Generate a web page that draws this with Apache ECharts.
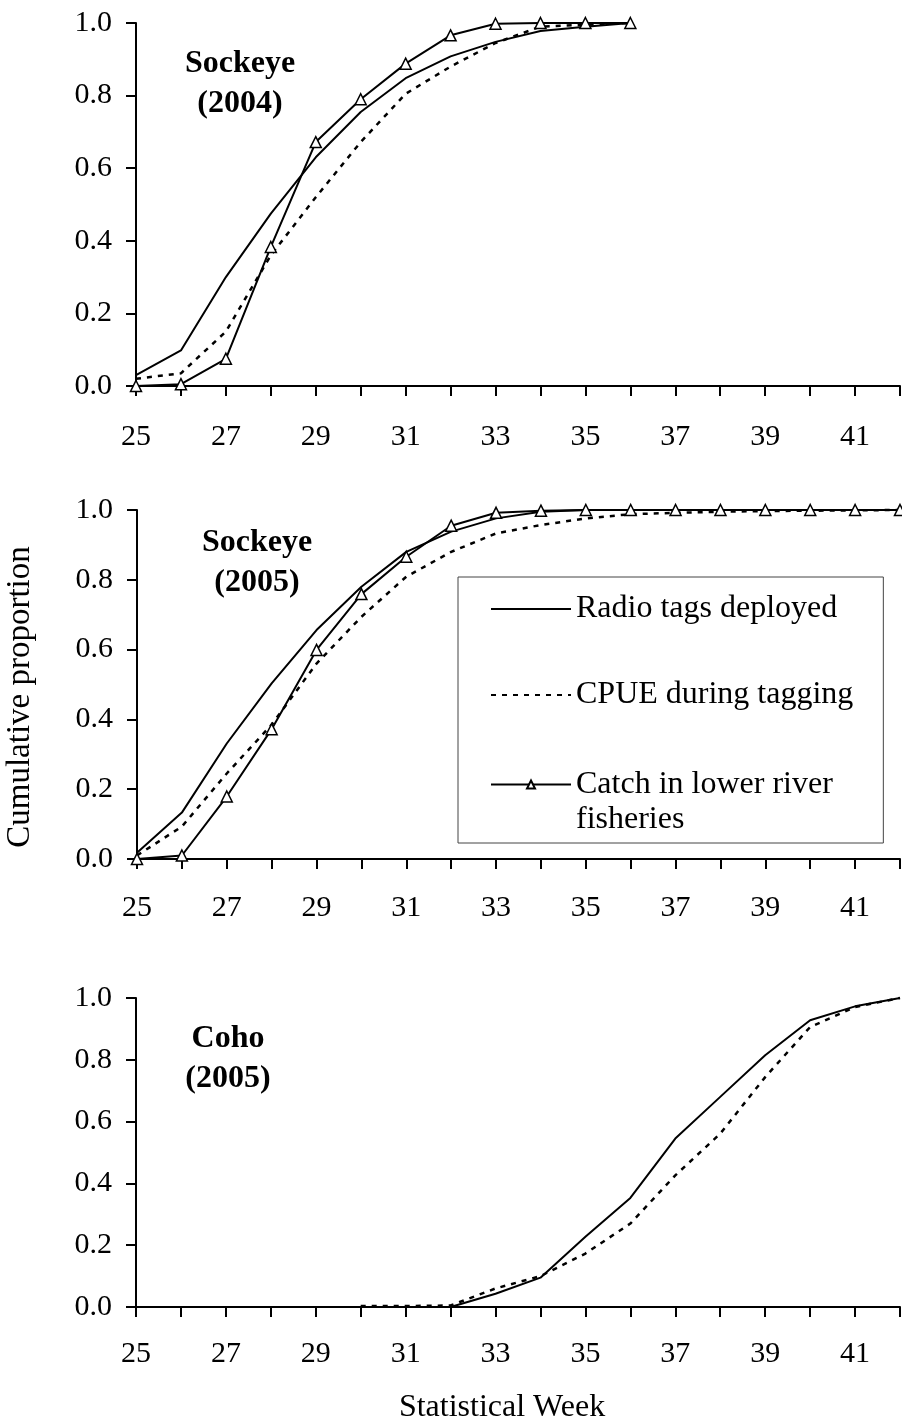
<!DOCTYPE html>
<html>
<head>
<meta charset="utf-8">
<title>Cumulative proportion by statistical week</title>
<script src="https://cdn.jsdelivr.net/npm/echarts@6/dist/echarts.min.js"></script>
<style>
  html, body { margin: 0; padding: 0; background: #fff; }
  #chart { width: 902px; height: 1425px; }
</style>
</head>
<body>
<div id="chart"></div>
<script>
// weeks and values
var weeks2004 = [25, 26, 27, 28, 29, 30, 31, 32, 33, 34, 35, 36];
var radio2004 = [0.03, 0.098, 0.30, 0.475, 0.63, 0.755, 0.848, 0.908, 0.948, 0.978, 0.99, 1.0];
var cpue2004 = [0.02, 0.035, 0.15, 0.36, 0.52, 0.672, 0.805, 0.88, 0.945, 0.99, 0.995, 1.0];
var catch2004 = [0, 0.005, 0.075, 0.383, 0.672, 0.79, 0.888, 0.966, 0.998, 1.0, 1.0, 1.0];

var weeks2005 = [25, 26, 27, 28, 29, 30, 31, 32, 33, 34, 35, 36, 37, 38, 39, 40, 41, 42];
var radio2005 = [0.018, 0.133, 0.331, 0.503, 0.656, 0.78, 0.88, 0.938, 0.976, 0.995, 1, 1, 1, 1, 1, 1, 1, 1];
var cpue2005 = [0.01, 0.093, 0.245, 0.385, 0.56, 0.694, 0.809, 0.88, 0.933, 0.957, 0.976, 0.988, 0.992, 0.995, 0.997, 0.998, 0.999, 1.0];
var catch2005 = [0, 0.01, 0.179, 0.372, 0.599, 0.759, 0.866, 0.955, 0.992, 0.998, 1, 1, 1, 1, 1, 1, 1, 1];

var weeksCohoRadio = [32, 33, 34, 35, 36, 37, 38, 39, 40, 41, 42];
var radioCoho = [0.0, 0.043, 0.095, 0.227, 0.353, 0.545, 0.68, 0.815, 0.928, 0.973, 1.0];
var weeksCohoCpue = [30, 31, 32, 33, 34, 35, 36, 37, 38, 39, 40, 41, 42];
var cpueCoho = [0.003, 0.003, 0.005, 0.06, 0.1, 0.173, 0.27, 0.426, 0.561, 0.744, 0.906, 0.971, 1.0];

var panelTitles = ["Sockeye\n(2004)", "Sockeye\n(2005)", "Coho\n(2005)"];
var seriesNames = ["Radio tags deployed", "CPUE during tagging", "Catch in lower river fisheries"];

var FONT = "'Liberation Serif', 'Times New Roman', serif";

function pairs(xs, ys) {
  return xs.map(function (x, i) { return [x, ys[i]]; });
}

var myChart = echarts.init(document.getElementById("chart"));

var grids = [
  { left: 136, right: 2, top: 23, height: 363, outerBoundsMode: "none" },
  { left: 137, right: 2, top: 510, height: 349, outerBoundsMode: "none" },
  { left: 136, right: 2, top: 998, height: 309, outerBoundsMode: "none" }
];
var labelMargins = [36, 34, 32];

var xAxes = grids.map(function (g, i) {
  var ax = {
    type: "value",
    gridIndex: i,
    min: 25,
    max: 42,
    interval: 1,
    axisLine: { lineStyle: { color: "#000", width: 2 } },
    axisTick: { length: 10, lineStyle: { color: "#000", width: 2 } },
    splitLine: { show: false },
    axisLabel: {
      color: "#000",
      fontFamily: FONT,
      fontSize: 30,
      margin: labelMargins[i],
      formatter: function (v) { return (v - 25) % 2 === 0 ? String(v) : ""; }
    }
  };
  if (i === 2) {
    ax.name = "Statistical Week";
    ax.nameLocation = "middle";
    ax.nameGap = 85;
    ax.nameTextStyle = { color: "#000", fontFamily: FONT, fontSize: 32, padding: [0, 32, 0, 0] };
  }
  return ax;
});

var yAxes = grids.map(function (g, i) {
  var ax = {
    type: "value",
    gridIndex: i,
    min: 0,
    max: 1,
    interval: 0.2,
    axisLine: { show: true, lineStyle: { color: "#000", width: 2 } },
    axisTick: { show: true, length: 10, lineStyle: { color: "#000", width: 2 } },
    splitLine: { show: false },
    axisLabel: {
      color: "#000",
      fontFamily: FONT,
      fontSize: 30,
      margin: 24,
      formatter: function (v) { return v.toFixed(1); }
    }
  };
  if (i === 1) {
    ax.name = "Cumulative proportion";
    ax.nameLocation = "middle";
    ax.nameGap = 100;
    ax.nameTextStyle = { color: "#000", fontFamily: FONT, fontSize: 33, padding: [0, 25, 0, 0] };
  }
  return ax;
});

var solid = { color: "#000", width: 2, type: "solid" };
var dotted = { color: "#000", width: 2.5, type: [5, 6] };
var triStyle = { color: "#fff", borderColor: "#000", borderWidth: 1.5 };

function radioSeries(idx, xs, ys) {
  return {
    name: seriesNames[0], type: "line", xAxisIndex: idx, yAxisIndex: idx,
    data: pairs(xs, ys), symbol: "none", lineStyle: solid,
    itemStyle: { color: "#000" }, clip: false, z: 3
  };
}
function cpueSeries(idx, xs, ys) {
  return {
    name: seriesNames[1], type: "line", xAxisIndex: idx, yAxisIndex: idx,
    data: pairs(xs, ys), symbol: "none", lineStyle: dotted,
    itemStyle: { color: "#000" }, clip: false, z: 2
  };
}
function catchSeries(idx, xs, ys) {
  return {
    name: seriesNames[2], type: "line", xAxisIndex: idx, yAxisIndex: idx,
    data: pairs(xs, ys), symbol: "triangle", symbolSize: 11, lineStyle: solid,
    itemStyle: triStyle, clip: false, z: 4
  };
}

// panel labels are centred on these x positions
var titlePos = [
  { left: 235, top: 39 },
  { left: 252, top: 518 },
  { left: 223, top: 1014 }
];

var option = {
  backgroundColor: "#fff",
  animation: false,
  title: panelTitles.map(function (t, i) {
    return {
      text: t,
      left: titlePos[i].left,
      top: titlePos[i].top,
      textAlign: "center",
      textStyle: { color: "#000", fontFamily: FONT, fontSize: 32, fontWeight: "bold", lineHeight: 40 }
    };
  }),
  grid: grids,
  xAxis: xAxes,
  yAxis: yAxes,
  legend: [
    {
      data: [
        { name: seriesNames[0], itemStyle: { opacity: 0 } },
        { name: seriesNames[1], itemStyle: { opacity: 0 } }
      ],
      orient: "vertical",
      left: 458,
      top: 577,
      padding: [14, 30, 130, 32],
      itemWidth: 80,
      itemHeight: 10,
      itemGap: 50,
      borderColor: "#444",
      borderWidth: 1,
      selectedMode: false,
      textStyle: { color: "#000", fontFamily: FONT, fontSize: 32, lineHeight: 36 }
    },
    {
      data: [seriesNames[2]],
      orient: "vertical",
      left: 490,
      top: 732,
      padding: 0,
      itemWidth: 80,
      itemHeight: 10,
      selectedMode: false,
      formatter: function () { return " \nCatch in lower river\nfisheries"; },
      textStyle: { color: "#000", fontFamily: FONT, fontSize: 32, lineHeight: 35 }
    }
  ],
  series: [
    radioSeries(0, weeks2004, radio2004),
    cpueSeries(0, weeks2004, cpue2004),
    catchSeries(0, weeks2004, catch2004),
    radioSeries(1, weeks2005, radio2005),
    cpueSeries(1, weeks2005, cpue2005),
    catchSeries(1, weeks2005, catch2005),
    radioSeries(2, weeksCohoRadio, radioCoho),
    cpueSeries(2, weeksCohoCpue, cpueCoho)
  ]
};

myChart.setOption(option);
</script>
</body>
</html>
